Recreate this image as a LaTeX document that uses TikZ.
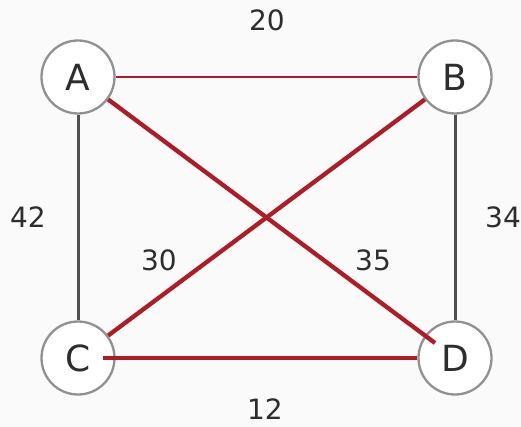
\documentclass[tikz,border=0pt]{standalone}
\usepackage{fontspec}
\setmainfont{DejaVu Sans}
\definecolor{edgered}{RGB}{175,28,38}
\definecolor{edgegray}{RGB}{80,80,80}
\definecolor{circgray}{RGB}{145,145,145}
\definecolor{textgray}{RGB}{45,45,45}
\definecolor{bggray}{RGB}{250,250,250}
\begin{document}
\begin{tikzpicture}[x=1pt,y=-1pt,
  vert/.style={circle, draw=circgray, line width=2.3pt, fill=white, minimum size=73pt, inner sep=0pt, font=\fontsize{36}{36}\selectfont, text=textgray},
  lbl/.style={font=\fontsize{28}{28}\selectfont, text=textgray},
  redthin/.style={draw=edgered, line width=2.5pt},
  redthick/.style={draw=edgered, line width=4.3pt},
  grayedge/.style={draw=edgegray, line width=3pt}]
\fill[bggray] (0,0) rectangle (521,427);
\useasboundingbox (0,0) rectangle (521,427);
\node[vert] (A) at (78,77) {A};
\node[vert] (B) at (455,77) {B};
\node[vert] (C) at (78,358) {C};
\node[vert] (D) at (455,358) {D};
\coordinate (dIn) at (435,343);
\coordinate (cIn) at (103,358);
\draw[redthin] (A) -- (B);
\draw[grayedge] (A) -- (C);
\draw[grayedge] (B) -- (D);
\draw[redthick] (A) -- (dIn);
\draw[redthick] (B) -- (C);
\draw[redthick] (cIn) -- (D);
\node[lbl] (l20) at (267,20) {20};
\node[lbl] (l42) at (28,217) {42};
\node[lbl] (l34) at (503,217) {34};
\node[lbl] (l30) at (159,260) {30};
\node[lbl] (l35) at (373,260) {35};
\node[lbl] (l12) at (265,409) {12};
\end{tikzpicture}
\end{document}
